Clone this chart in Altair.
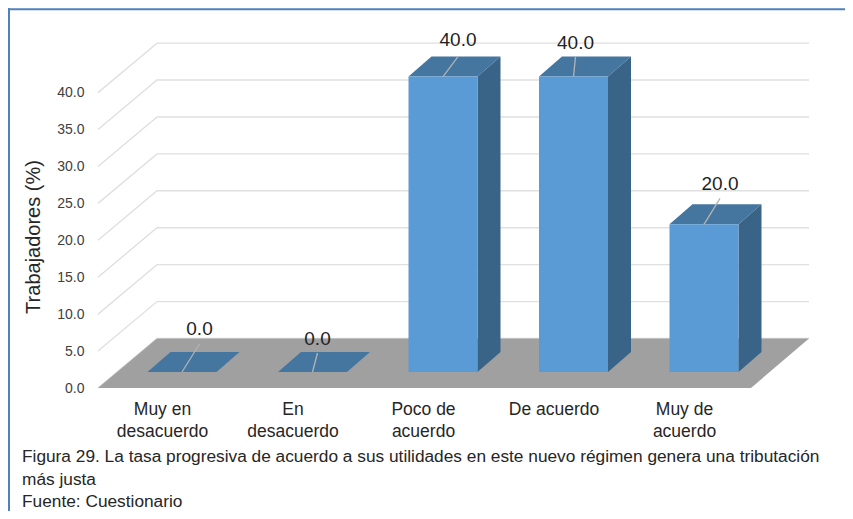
import altair as alt
import pandas as pd

categories = ["Muy en\ndesacuerdo", "En\ndesacuerdo", "Poco de\nacuerdo", "De acuerdo", "Muy de\nacuerdo"]
values = [0.0, 0.0, 40.0, 40.0, 20.0]
y_ticks = [0, 5, 10, 15, 20, 25, 30, 35, 40]
caption = ["Figura 29. La tasa progresiva de acuerdo a sus utilidades en este nuevo régimen genera una tributación",
           "más justa",
           "Fuente: Cuestionario"]

# layout (view pixels horizontally; value units vertically)
W, H = 837, 503
OX, OY = 8, 8
UNIT = 7.385                # px per value unit
BASE_PAGE = 388
def yv(page_y):             # page pixel -> value units
    return (BASE_PAGE - page_y) / UNIT
BAR_BASE = yv(372)
BAR_W, BAR_DX = 69, 23
BAR_DY = 20 / UNIT
FIRST_BAR, BAR_STEP = 147.5 - OX, 130.5
FLOOR_L, FLOOR_R, FLOOR_DX_L, FLOOR_DX_R = 98 - OX, 751 - OX, 59, 58
FLOOR_DY = 49.5 / UNIT
GRID_R = 809 - OX
label_dx = [17.5, 5, 15, 2, 16]
label_dy = [-43, -33, -37, -34, -40]
leader_dy = [-28, -19, -20, -20, -26]

x_scale = alt.Scale(domain=[0, W], range=[0, W], zero=False, nice=False)
y_scale = alt.Scale(domain=[yv(H + OY), yv(OY)], range=[H, 0], zero=False, nice=False)
X = lambda f: alt.X(f, type="quantitative", scale=x_scale, axis=None)
Y = lambda f: alt.Y(f, type="quantitative", scale=y_scale, axis=None)

left = [FIRST_BAR + BAR_STEP * i for i in range(len(values))]
bars = pd.DataFrame({
    "i": range(len(values)), "v": values, "left": left,
    "right": [l + BAR_W for l in left],
    "base": BAR_BASE,
    "top": [BAR_BASE + v for v in values],
})

# wall grid
grid_rows = []
for t in y_ticks:
    grid_rows += [
        {"t": t, "o": 0, "x": FLOOR_L, "y": t},
        {"t": t, "o": 1, "x": FLOOR_L + FLOOR_DX_L, "y": t + FLOOR_DY},
        {"t": t, "o": 2, "x": GRID_R, "y": t + FLOOR_DY},
    ]
grid = alt.Chart(pd.DataFrame(grid_rows)).mark_line(color="#E0E0E0", strokeWidth=1.4).encode(
    x=X("x"), y=Y("y"), detail="t:N", order="o:Q")

# floor
floor_df = pd.DataFrame([
    {"y": 0, "x": FLOOR_L, "x2": FLOOR_R},
    {"y": FLOOR_DY, "x": FLOOR_L + FLOOR_DX_L, "x2": FLOOR_R + FLOOR_DX_R},
])
floor = alt.Chart(floor_df).mark_area(color="#A0A0A0", orient="horizontal", opacity=1).encode(
    y=Y("y"), x=X("x"), x2="x2:Q")

# bar faces
top_rows, side_rows = [], []
for _, b in bars.iterrows():
    top_rows += [
        {"i": b.i, "y": b.top, "x": b.left, "x2": b.right},
        {"i": b.i, "y": b.top + BAR_DY, "x": b.left + BAR_DX, "x2": b.right + BAR_DX},
    ]
    if b.v > 0:
        side_rows += [
            {"i": b.i, "x": b.right, "y": b.base, "y2": b.top},
            {"i": b.i, "x": b.right + BAR_DX, "y": b.base + BAR_DY, "y2": b.top + BAR_DY},
        ]
top = alt.Chart(pd.DataFrame(top_rows)).mark_area(color="#44769F", orient="horizontal", opacity=1).encode(
    y=Y("y"), x=X("x"), x2="x2:Q", detail="i:N")
side = alt.Chart(pd.DataFrame(side_rows)).mark_area(color="#3A6487", orient="vertical", opacity=1).encode(
    x=X("x"), y=Y("y"), y2="y2:Q", detail="i:N")
front = alt.Chart(bars[bars.v > 0]).mark_rect(color="#5B9BD5").encode(
    x=X("left"), x2="right:Q", y=Y("base"), y2="top:Q")

# leaders and data labels
lab = bars.copy()
lab["cx"] = lab.left + BAR_W / 2
lab["lx"] = lab.cx + label_dx
lab["ly"] = lab.top - pd.Series(label_dy) / UNIT
lab["ey"] = lab.top - pd.Series(leader_dy) / UNIT
lab["txt"] = [f"{v:.1f}" for v in values]
leaders = alt.Chart(lab).mark_rule(color="#B4B4B4", strokeWidth=1.3).encode(
    x=X("cx"), x2="lx:Q", y=Y("top"), y2="ey:Q")
labels = alt.Chart(lab).mark_text(font="Liberation Sans", fontSize=19, color="#1F1F1F", baseline="middle").encode(
    x=X("lx"), y=Y("ly"), text="txt:N")

# category labels
cat = pd.DataFrame({"c": categories, "x": [l + 15 for l in left], "y": yv(401)})
cat_text = alt.Chart(cat).mark_text(font="Liberation Sans", fontSize=17.5, color="#262626", baseline="top",
                                    lineBreak="\n", lineHeight=22).encode(
    x=X("x"), y=Y("y"), text="c:N")

# value axis
axis_layer = alt.Chart(pd.DataFrame({"t": y_ticks})).mark_point(opacity=0).encode(
    x=alt.value(0),
    y=alt.Y("t:Q", scale=y_scale, title=None,
            axis=alt.Axis(values=y_ticks, format=".1f", domain=False, ticks=False, grid=False,
                          labelFont="Liberation Sans", labelFontSize=14, labelColor="#404040",
                          labelPadding=0, offset=-76)))
ytitle = alt.Chart(pd.DataFrame({"s": ["Trabajadores (%)"]})).mark_text(
    font="Liberation Sans", fontSize=20, color="#262626", angle=270).encode(
    x=alt.value(26), y=alt.value(229), text="s:N")

# caption
cap = pd.DataFrame({"s": caption, "yp": [448.5, 471.5, 494]})
cap_text = alt.Chart(cap).mark_text(font="Liberation Sans", fontSize=17.3, color="#262626",
                                    align="left", baseline="middle").encode(
    x=alt.value(14), y=alt.Y("yp:Q", scale=alt.Scale(domain=[0, H], range=[0, H]), axis=None), text="s:N")

# frame: left and top rules
frame_l = alt.Chart(pd.DataFrame({"a": [0]})).mark_rule(color="#4F81BD", strokeWidth=2).encode(
    x=alt.value(1), y=alt.value(0), y2=alt.value(H))
frame_t = alt.Chart(pd.DataFrame({"a": [0]})).mark_rule(color="#4F81BD", strokeWidth=2).encode(
    y=alt.value(1.3), x=alt.value(0), x2=alt.value(W))

chart = alt.layer(
    axis_layer, frame_l, frame_t, grid, floor, top, side, front, leaders, labels, cat_text, ytitle, cap_text
).resolve_scale(y="independent").properties(
    width=W, height=H, padding=0, autosize=alt.AutoSizeParams(type="none"), background="#FFFFFF"
).configure_view(stroke=None)

chart.save("out.html", embed_options={"renderer": "svg", "actions": False})
